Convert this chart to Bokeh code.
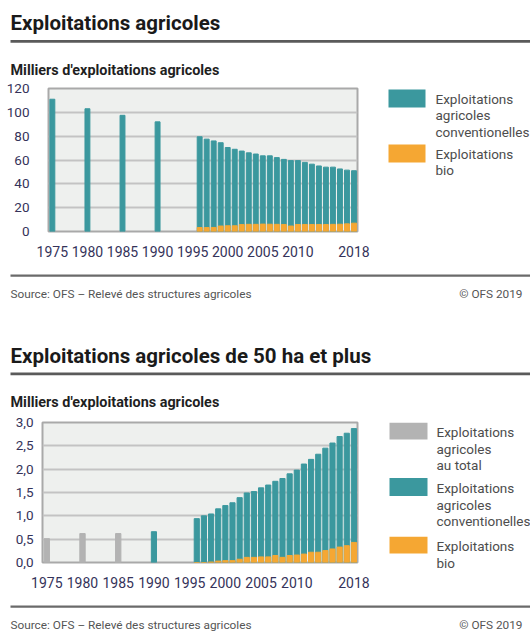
from bokeh.plotting import figure
from bokeh.models import Range1d, FixedTicker, Label, BoxAnnotation, CustomJSTickFormatter
from bokeh.layouts import column, row
from bokeh.embed import file_html
from bokeh.resources import INLINE

FONT = "Roboto"
TEAL = "#3b989e"
ORANGE = "#f5a733"
GREY = "#b3b3b3"
TICK_COLOR = "#35335a"

# ---------------- data ----------------
tick_years = [1975, 1980, 1985, 1990, 1995, 2000, 2005, 2010, 2018]
tick_labels = ["1975", "1980", "1985", "1990", "1995", "2000", "2005", "2010", "2018"]

# Chart 1: all farms (thousands)
years_all = [1975, 1980, 1985, 1990, 1996, 1997, 1998, 1999, 2000, 2001, 2002, 2003,
             2004, 2005, 2006, 2007, 2008, 2009, 2010, 2011, 2012, 2013, 2014, 2015,
             2016, 2017, 2018]
total_all = [111.0, 103.0, 97.5, 92.0, 79.5, 77.5, 76.0, 74.5, 70.5, 69.0, 67.5, 66.0,
             65.0, 63.5, 63.5, 62.0, 60.5, 59.5, 59.5, 58.0, 56.5, 55.0, 54.0, 54.0,
             52.5, 51.5, 51.0]
years_bio = [1996, 1997, 1998, 1999, 2000, 2001, 2002, 2003, 2004, 2005, 2006, 2007,
             2008, 2009, 2010, 2011, 2012, 2013, 2014, 2015, 2016, 2017, 2018]
bio_all = [3.3, 3.3, 3.4, 4.6, 4.8, 4.8, 5.8, 6.0, 6.0, 6.2, 6.1, 6.0,
           5.9, 4.6, 5.9, 5.9, 5.9, 5.9, 5.9, 6.0, 6.1, 6.4, 7.0]

# Chart 2: farms of 50 ha and more (thousands)
years_early_50 = [1975, 1980, 1985]
total_early_50 = [0.51, 0.62, 0.62]
years_50 = [1990, 1996, 1997, 1998, 1999, 2000, 2001, 2002, 2003, 2004, 2005, 2006,
            2007, 2008, 2009, 2010, 2011, 2012, 2013, 2014, 2015, 2016, 2017, 2018]
total_50 = [0.66, 0.94, 1.00, 1.04, 1.15, 1.22, 1.28, 1.39, 1.49, 1.52, 1.60, 1.66,
            1.74, 1.80, 1.90, 1.98, 2.11, 2.21, 2.32, 2.45, 2.56, 2.70, 2.77, 2.87]
bio_50 = [0.0, 0.0, 0.01, 0.03, 0.04, 0.04, 0.07, 0.11, 0.11, 0.12, 0.12, 0.15,
          0.11, 0.15, 0.16, 0.18, 0.22, 0.22, 0.255, 0.29, 0.33, 0.36, 0.43]

yticks_all = [0, 20, 40, 60, 80, 100, 120]
yticks_50 = [0, 0.5, 1.0, 1.5, 2.0, 2.5, 3.0]

title1 = "Exploitations agricoles"
title2 = "Exploitations agricoles de 50 ha et plus"
subtitle = "Milliers d'exploitations agricoles"
source = "Source: OFS \u2013 Relevé des structures agricoles"
copyright_txt = "\u00a9 OFS 2019"
leg_total = ["Exploitations", "agricoles", "au total"]
leg_conv = ["Exploitations", "agricoles", "conventionelles"]
leg_bio = ["Exploitations", "bio"]

W = 530
CW = 380  # chart width
LW = W - CW  # legend panel width


def make_chart(height, btop, bbottom, bleft, xr, yr, yticks, ystandoff):
    p = figure(width=CW, height=height, x_range=xr, y_range=yr, title=None,
               output_backend="svg", toolbar_location=None,
               min_border_left=bleft, min_border_right=23,
               min_border_top=btop, min_border_bottom=bbottom)
    p.background_fill_color = "#eef0ee"
    p.border_fill_color = "white"
    p.outline_line_color = "#a9a9a9"
    p.outline_line_width = 2
    p.xgrid.visible = False
    p.ygrid.grid_line_color = "#c3c3c3"
    p.ygrid.grid_line_width = 2
    p.ygrid.ticker = FixedTicker(ticks=yticks)
    for ax in (p.xaxis[0], p.yaxis[0]):
        ax.axis_line_color = None
        ax.major_tick_line_color = None
        ax.minor_tick_line_color = None
        ax.major_label_text_font = FONT
        ax.major_label_text_color = TICK_COLOR
    p.xaxis.ticker = FixedTicker(ticks=tick_years)
    p.xaxis.major_label_overrides = dict(zip(tick_years, tick_labels))
    p.xaxis.major_label_text_font_size = "14px"
    p.xaxis.major_label_standoff = 8
    p.yaxis.ticker = FixedTicker(ticks=yticks)
    p.yaxis.major_label_text_font_size = "13.5px"
    p.yaxis.major_label_standoff = ystandoff
    return p


def deco(x0, width, height, ftop, fbottom, btop=0, bbottom=0):
    """A blank panel whose data coordinates are page pixels (y downwards).
    ftop/fbottom are the page y of its frame edges."""
    p = figure(width=width, height=height, x_range=Range1d(x0, x0 + width),
               y_range=Range1d(fbottom, ftop), x_axis_location=None,
               y_axis_location=None, title=None, output_backend="svg",
               toolbar_location=None, min_border_left=0, min_border_right=0,
               min_border_top=btop, min_border_bottom=bbottom)
    p.grid.visible = False
    p.outline_line_color = None
    p.background_fill_color = "white"
    p.border_fill_color = "white"
    return p


def put_text(p, px, py, txt, size, bold=False, color="#222222", align="left"):
    p.add_layout(Label(x=px, y=py, text=txt, text_font=FONT,
                       text_font_size=f"{size}px",
                       text_font_style="bold" if bold else "normal",
                       text_color=color, text_align=align, text_baseline="middle"))


def put_lines(p, px, py, lines, size, color, step=16.8):
    for i, t in enumerate(lines):
        put_text(p, px, py + i * step, t, size, color=color)


def put_box(p, x0, x1, y0, y1, color):
    p.add_layout(BoxAnnotation(left=x0, right=x1, top=y0, bottom=y1,
                               fill_color=color, fill_alpha=1.0, line_color=None))


LEG_COLOR = "#4d4d4d"
FOOT_COLOR = "#555555"
LEG_SIZE = 13.5
TITLE_SIZE = 20.5
SUB_SIZE = 14.4
FOOT_SIZE = 11.8

# ---------------- header 1 (page y 0..78) ----------------
h1 = deco(0, W, 78, 0, 78)
put_text(h1, 10, 22, title1, TITLE_SIZE, bold=True, color="#1a1a1a")
put_box(h1, 10, 530, 39.5, 42.2, "#5a5a5a")
put_text(h1, 10, 70, subtitle, SUB_SIZE, bold=True, color="#1f1f1f")

# ---------------- chart 1 (page y 78..262) ----------------
# frame: left 48, right 357, top 88, bottom 231
c1 = make_chart(184, 10, 31, 48, Range1d(1974.45, 2018.5), Range1d(0, 120), yticks_all, 13)
c1.vbar(x=years_all, top=total_all, width=0.7, color=TEAL)
c1.vbar(x=years_bio, top=bio_all, width=0.7, color=ORANGE)

l1 = deco(CW, LW, 184, 88, 231, btop=10, bbottom=31)
put_box(l1, 388, 425, 89, 107, TEAL)
put_lines(l1, 435, 98, leg_conv, LEG_SIZE, LEG_COLOR)
put_box(l1, 388, 425, 144, 162, ORANGE)
put_lines(l1, 435, 153, leg_bio, LEG_SIZE, LEG_COLOR)

# ---------------- footer 1 + header 2 (page y 262..412) ----------------
m = deco(0, W, 150, 262, 412)
put_box(m, 10, 530, 274, 276.2, "#6a6a6a")
put_text(m, 10, 293, source, FOOT_SIZE, color=FOOT_COLOR)
put_text(m, 522, 293, copyright_txt, FOOT_SIZE, color=FOOT_COLOR, align="right")
put_text(m, 10, 355, title2, TITLE_SIZE, bold=True, color="#1a1a1a")
put_box(m, 10, 530, 372, 374.7, "#5a5a5a")
put_text(m, 10, 402, subtitle, SUB_SIZE, bold=True, color="#1f1f1f")

# ---------------- chart 2 (page y 412..597) ----------------
# frame: left 42, right 357, top 422, bottom 563
c2 = make_chart(178, 10, 27, 42, Range1d(1974.4, 2018.5), Range1d(0, 3), yticks_50, 3)
c2.yaxis.formatter = CustomJSTickFormatter(code="return tick.toFixed(1).replace('.', ',');")
c2.vbar(x=years_early_50, top=total_early_50, width=0.75, color=GREY)
c2.vbar(x=years_50, top=total_50, width=0.72, color=TEAL)
c2.vbar(x=years_bio, top=bio_50, width=0.72, color=ORANGE)

l2 = deco(CW, LW, 185, 422, 570, btop=10, bbottom=27)
put_box(l2, 389, 427, 422, 439, GREY)
put_lines(l2, 436, 432, leg_total, LEG_SIZE, LEG_COLOR, step=16.5)
put_box(l2, 389, 427, 478, 496, TEAL)
put_lines(l2, 436, 488, leg_conv, LEG_SIZE, LEG_COLOR, step=16.8)
put_box(l2, 389, 427, 537, 554, ORANGE)
put_lines(l2, 436, 546, leg_bio, LEG_SIZE, LEG_COLOR, step=17)

# ---------------- footer 2 (page y 597..631) ----------------
f2 = deco(0, W, 34, 597, 631)
put_box(f2, 10, 530, 605, 607.2, "#6a6a6a")
put_text(f2, 10, 624, source, FOOT_SIZE, color=FOOT_COLOR)
put_text(f2, 522, 624, copyright_txt, FOOT_SIZE, color=FOOT_COLOR, align="right")

layout = column(h1, row(c1, l1, spacing=0), m, row(c2, l2, spacing=0), f2, spacing=0)
open("out.html", "w").write(file_html(layout, INLINE))
